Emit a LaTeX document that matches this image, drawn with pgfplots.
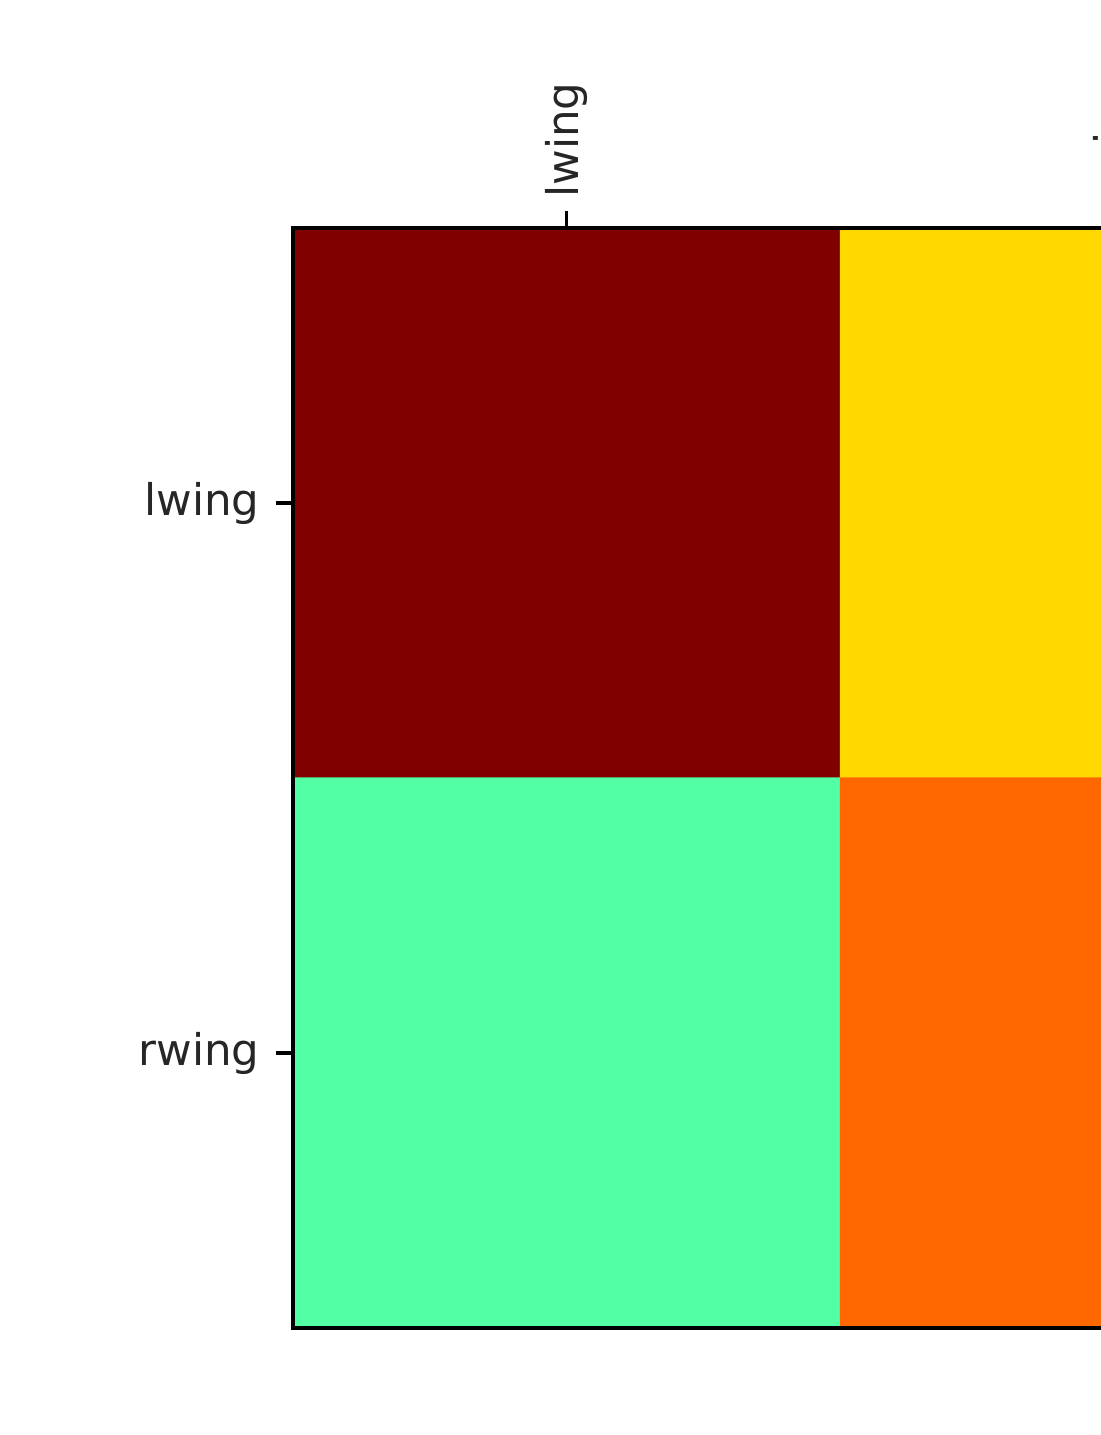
\documentclass[border=0pt]{standalone}
\usepackage{fontspec}
\setmainfont{DejaVu Sans}
\usepackage{pgfplots}
\pgfplotsset{compat=1.18}

% matplotlib-style jet
\pgfplotsset{colormap={mpljet}{
  rgb255(0pt)=(0,0,128) rgb255(22pt)=(0,0,255) rgb255(25pt)=(0,0,255)
  rgb255(68pt)=(0,219,255) rgb255(70pt)=(0,230,247) rgb255(75pt)=(21,255,226)
  rgb255(128pt)=(239,255,8) rgb255(130pt)=(247,245,0) rgb255(132pt)=(255,236,0)
  rgb255(178pt)=(255,19,0) rgb255(182pt)=(232,0,0) rgb255(200pt)=(128,0,0)}}

\pgfplotstableread{
x y c
0 0 1.00
1 0 0.68
0 1 0.45
1 1 0.80
}\cells

\begin{document}
\begin{tikzpicture}
\begin{axis}[
    at={(0,0)}, anchor=south west,
    scale only axis,
    width=109.5mm, height=110mm,
    xmin=-0.5, xmax=1.5, ymin=-0.5, ymax=1.5,
    y dir=reverse,
    axis on top,
    xtick={0,1}, xticklabels={lwing,rwing},
    ytick={0,1}, yticklabels={lwing,rwing},
    xtick pos=upper, xticklabel pos=upper, ytick pos=left,
    tick align=outside,
    major tick length=1.7mm,
    every tick/.style={black, line width=0.9pt},
    axis line style={line width=0.9pt},
    ticklabel style={font=\fontsize{12.4}{14}\selectfont, text=black!85},
    yticklabel style={xshift=-0.4mm},
    xticklabel style={rotate=90, anchor=west, xshift=0.1mm},
    colormap name=mpljet,
    point meta min=0, point meta max=1,
]
\addplot[matrix plot*, mesh/cols=2, point meta=explicit] table[meta=c] {\cells};
\end{axis}
\pgfresetboundingbox
\path[use as bounding box] (-29.3mm,-10.7mm) rectangle (80.7mm,132.8mm);
\end{tikzpicture}
\end{document}
